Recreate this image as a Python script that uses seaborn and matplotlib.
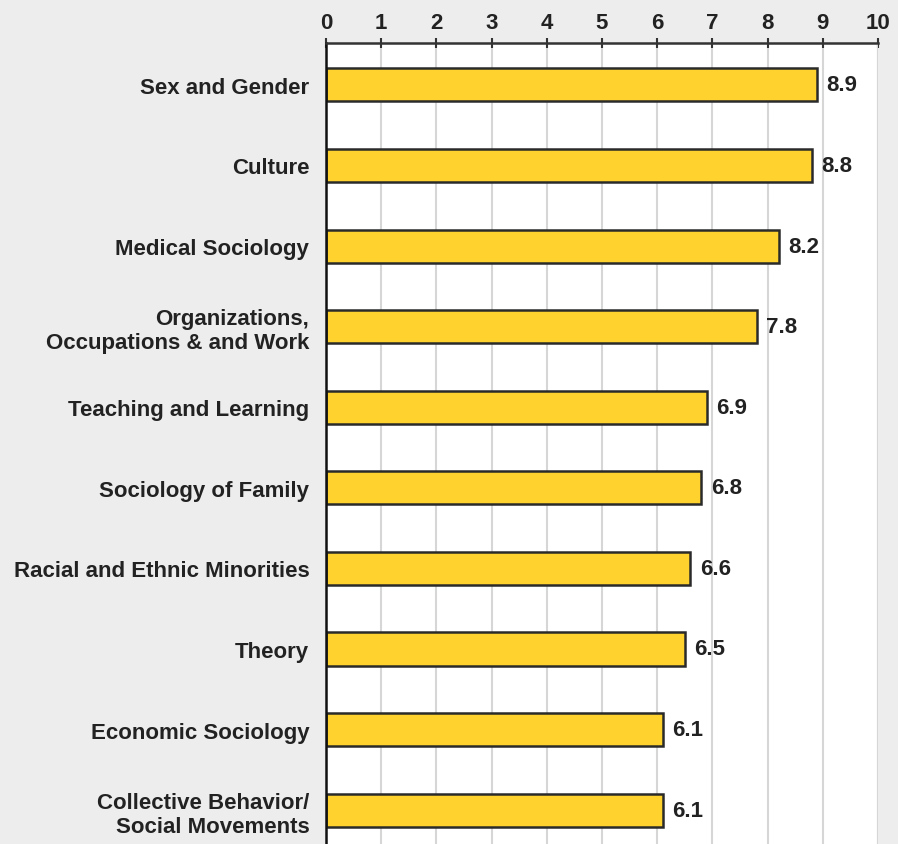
import matplotlib
matplotlib.use("Agg")
import matplotlib.pyplot as plt
import seaborn as sns
import pandas as pd

categories = [
    "Sex and Gender",
    "Culture",
    "Medical Sociology",
    "Organizations,\nOccupations & and Work",
    "Teaching and Learning",
    "Sociology of Family",
    "Racial and Ethnic Minorities",
    "Theory",
    "Economic Sociology",
    "Collective Behavior/\nSocial Movements",
]
values = [8.9, 8.8, 8.2, 7.8, 6.9, 6.8, 6.6, 6.5, 6.1, 6.1]
tick_values = [0, 1, 2, 3, 4, 5, 6, 7, 8, 9, 10]

df = pd.DataFrame({"category": categories, "value": values})

sns.set_theme(style="white")
plt.rcParams["font.family"] = ["Liberation Sans", "DejaVu Sans"]

fig = plt.figure(figsize=(8.98, 8.45), dpi=100)
fig.patch.set_facecolor("#ededed")
ax = fig.add_axes([326 / 898, 0.0, (878 - 326) / 898, 1 - 44 / 845])
ax.set_facecolor("white")

sns.barplot(data=df, x="value", y="category", orient="h", ax=ax,
            color="#ffd22e", edgecolor="#2a2a2a", linewidth=1.8,
            width=0.41, saturation=1)

ax.set_xlim(0, 10)
ax.set_ylim(9.42, -0.52)
ax.set_xticks(tick_values)
ax.set_xticklabels([str(t) for t in tick_values])
ax.xaxis.tick_top()
ax.xaxis.set_label_position("top")
ax.set_xlabel("")
ax.set_ylabel("")
ax.grid(axis="x", color="#d6d6d6", linewidth=1.5)
ax.set_axisbelow(True)

for s in ["right", "bottom"]:
    ax.spines[s].set_visible(False)
ax.spines["left"].set_color("#111111")
ax.spines["left"].set_linewidth(1.8)
ax.spines["top"].set_color("#333333")
ax.spines["top"].set_linewidth(1.8)

ax.tick_params(axis="x", top=True, direction="inout", length=7, width=1.5,
               color="#333333", labelsize=16, labelcolor="#222222", pad=4)
ax.tick_params(axis="y", left=False, length=0, labelsize=16,
               labelcolor="#222222", pad=12)
for lab in ax.get_xticklabels() + ax.get_yticklabels():
    lab.set_fontweight("bold")
    lab.set_linespacing(1.2)

for i, v in enumerate(values):
    ax.text(v + 0.17, i, f"{v:.1f}", va="center", ha="left",
            fontsize=16, fontweight="bold", color="#222222")

ax.axvline(10, color="#d6d6d6", linewidth=1.5)

fig.savefig("out.png", dpi=100, facecolor=fig.get_facecolor())
